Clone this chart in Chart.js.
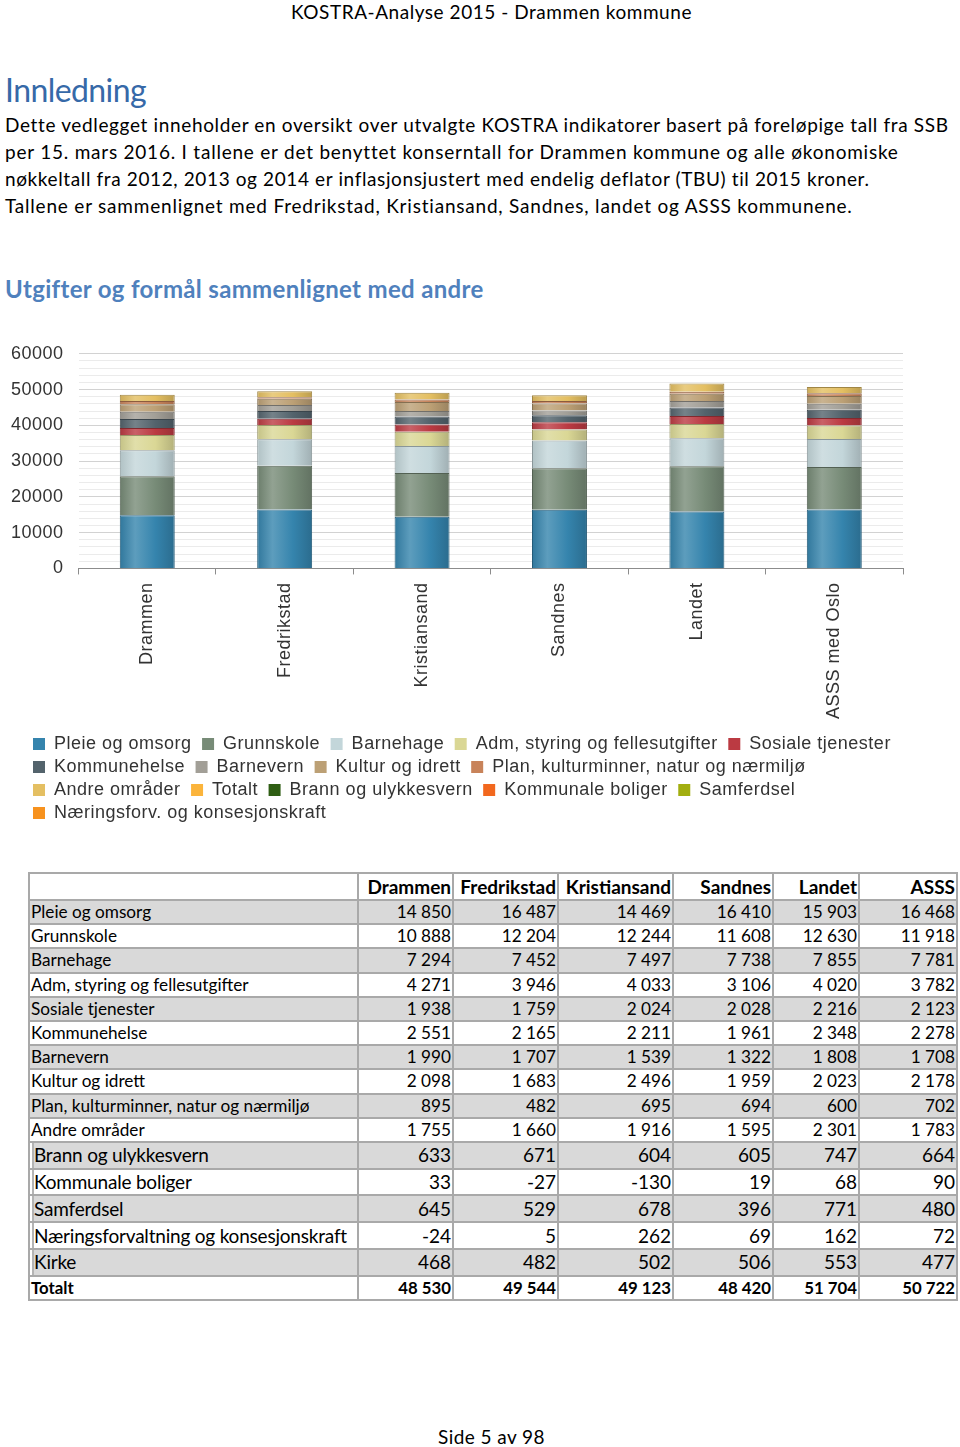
<!DOCTYPE html>
<html lang="no">
<head>
<meta charset="utf-8">
<title>KOSTRA-Analyse 2015 - Drammen kommune</title>
<script src="https://cdn.jsdelivr.net/npm/chart.js@4.4.1/dist/chart.umd.min.js"></script>
<style>
  html, body { margin: 0; padding: 0; background: #fff; }
  body { width: 960px; height: 1447px; position: relative; overflow: hidden; font-family: Lato, 'Open Sans', sans-serif; color: #000; }
  .txt { position: absolute; white-space: nowrap; display: inline-block; }
  .body { font-size: 19px; line-height: 27px; left: 5px; }
  #hdr { top: -2px; left: 291px; font-size: 19px; line-height: 27px; }
  #h1 { top: 71px; left: 5px; font-size: 32px; line-height: 38px; color: #3669a8; }
  #h2 { top: 274px; left: 5px; font-size: 24px; line-height: 29px; font-weight: 700; color: #4f81bd; }
  #ftr { top: 1423px; left: 438px; font-size: 19px; line-height: 27px; }
  #chartBox { position: absolute; left: -4px; top: 328px; width: 909px; height: 515px; }
  #tbl { position: absolute; left: 28px; top: 872px; border-collapse: collapse; table-layout: fixed; width: 928px; font-size: 17.2px; }
  #tbl td { border: 2px solid #a9a9a9; padding: 0 1px 0 1px; white-space: nowrap; vertical-align: middle; overflow: hidden; line-height: 18px; }
  #tbl td.num { text-align: right; }
  #tbl tr.head td { font-weight: 700; font-size: 19px; height: 25px; }
  #tbl tr.row td { height: 22.2px; }
  #tbl tr.big td { height: 24.8px; font-size: 19px; }
  #tbl tr.big td.lab { box-shadow: inset 2px 0 0 #fff, inset 4px 0 0 #b4b4b4; padding-left: 4px; letter-spacing: -0.2px; }
  #tbl tr.tot td { font-weight: 700; height: 22px; font-size: 16.8px; }
  #tbl tr.gray td { background: #d9d9d9; }
</style>
</head>
<body>
<div id="hdr" class="txt fit" data-w="401">KOSTRA-Analyse 2015 - Drammen kommune</div>
<div id="h1" class="txt fit" data-w="141">Innledning</div>
<div class="txt body fit" style="top:111px" data-w="943">Dette vedlegget inneholder en oversikt over utvalgte KOSTRA indikatorer basert på foreløpige tall fra SSB</div>
<div class="txt body fit" style="top:138px" data-w="893">per 15. mars 2016. I tallene er det benyttet konserntall for Drammen kommune og alle økonomiske</div>
<div class="txt body fit" style="top:165px" data-w="865">nøkkeltall fra 2012, 2013 og 2014 er inflasjonsjustert med endelig deflator (TBU) til 2015 kroner.</div>
<div class="txt body fit" style="top:192px" data-w="848">Tallene er sammenlignet med Fredrikstad, Kristiansand, Sandnes, landet og ASSS kommunene.</div>
<div id="h2" class="txt fit" data-w="478">Utgifter og formål sammenlignet med andre</div>

<div id="chartBox"><canvas id="kostraChart"></canvas></div>

<table id="tbl">
  <colgroup>
    <col style="width:329px"><col style="width:95px"><col style="width:105px"><col style="width:115px">
    <col style="width:100px"><col style="width:86px"><col style="width:98px">
  </colgroup>
  <tbody id="tblBody"></tbody>
</table>

<div id="ftr" class="txt fit" data-w="107">Side 5 av 98</div>

<script>
// kommuner / sammenligning
const CATEGORIES = ['Drammen', 'Fredrikstad', 'Kristiansand', 'Sandnes', 'Landet', 'ASSS med Oslo'];
const TABLE_COLUMNS = ['Drammen', 'Fredrikstad', 'Kristiansand', 'Sandnes', 'Landet', 'ASSS'];

// netto driftsutgifter per innbygger (kr)
const PLEIE = [14850, 16487, 14469, 16410, 15903, 16468];
const GRUNNSKOLE = [10888, 12204, 12244, 11608, 12630, 11918];
const BARNEHAGE = [7294, 7452, 7497, 7738, 7855, 7781];
const ADM = [4271, 3946, 4033, 3106, 4020, 3782];
const SOSIALE = [1938, 1759, 2024, 2028, 2216, 2123];
const KOMMUNEHELSE = [2551, 2165, 2211, 1961, 2348, 2278];
const BARNEVERN = [1990, 1707, 1539, 1322, 1808, 1708];
const KULTUR = [2098, 1683, 2496, 1959, 2023, 2178];
const PLAN = [895, 482, 695, 694, 600, 702];
const ANDRE = [1755, 1660, 1916, 1595, 2301, 1783];
const BRANN = [633, 671, 604, 605, 747, 664];
const KOMMUNALE_BOLIGER = [33, -27, -130, 19, 68, 90];
const SAMFERDSEL = [645, 529, 678, 396, 771, 480];
const NAERING = [-24, 5, 262, 69, 162, 72];
const KIRKE = [468, 482, 502, 506, 553, 477];
const TOTALT = [48530, 49544, 49123, 48420, 51704, 50722];

const Y_MAX = 60000;
const Y_STEP = 2000;
const Y_LABEL_STEP = 10000;

const TEXT_COLOR = '#333333';
const AXIS_COLOR = '#8c8c8c';
const GRID_MAJOR = '#d2d2d2';
const GRID_MINOR = '#ebebeb';
const LETTER_SPACING = '0.5px';
const LEGEND_DX = 32;
const LEGEND_DY = 3;

const FONT = { family: "'Liberation Sans', Arial, sans-serif", size: 18 };

// legend order = stacking order (only the first ten have bars)
const SERIES = [
  { label: 'Pleie og omsorg', data: PLEIE, color: '#3584ad' },
  { label: 'Grunnskole', data: GRUNNSKOLE, color: '#778b77' },
  { label: 'Barnehage', data: BARNEHAGE, color: '#c3d6da' },
  { label: 'Adm, styring og fellesutgifter', data: ADM, color: '#dad795' },
  { label: 'Sosiale tjenester', data: SOSIALE, color: '#bb3a42' },
  { label: 'Kommunehelse', data: KOMMUNEHELSE, color: '#53636c' },
  { label: 'Barnevern', data: BARNEVERN, color: '#a29f97' },
  { label: 'Kultur og idrett', data: KULTUR, color: '#bca075' },
  { label: 'Plan, kulturminner, natur og nærmiljø', data: PLAN, color: '#c8835a' },
  { label: 'Andre områder', data: ANDRE, color: '#e4bf62' },
  { label: 'Totalt', data: [], color: '#fbb43b' },
  { label: 'Brann og ulykkesvern', data: [], color: '#2f5e14' },
  { label: 'Kommunale boliger', data: [], color: '#f2681e' },
  { label: 'Samferdsel', data: [], color: '#a2ae10' },
  { label: 'Næringsforv. og konsesjonskraft', data: [], color: '#f7921e' },
];

const TABLE_ROWS = [
  ['Pleie og omsorg', PLEIE],
  ['Grunnskole', GRUNNSKOLE],
  ['Barnehage', BARNEHAGE],
  ['Adm, styring og fellesutgifter', ADM],
  ['Sosiale tjenester', SOSIALE],
  ['Kommunehelse', KOMMUNEHELSE],
  ['Barnevern', BARNEVERN],
  ['Kultur og idrett', KULTUR],
  ['Plan, kulturminner, natur og nærmiljø', PLAN],
  ['Andre områder', ANDRE],
  ['Brann og ulykkesvern', BRANN],
  ['Kommunale boliger', KOMMUNALE_BOLIGER],
  ['Samferdsel', SAMFERDSEL],
  ['Næringsforvaltning og konsesjonskraft', NAERING],
  ['Kirke', KIRKE],
  ['Totalt', TOTALT],
];

const shade = (hex, amt) => {
  const n = parseInt(hex.slice(1), 16);
  const mix = (c) => Math.round(amt >= 0 ? c + (255 - c) * amt : c * (1 + amt));
  const r = mix(n >> 16), g = mix((n >> 8) & 255), b = mix(n & 255);
  return `rgb(${r}, ${g}, ${b})`;
};

const fmt = (v) => {
  const s = Math.abs(v).toString().replace(/\B(?=(\d{3})+(?!\d))/g, '\u00a0');
  return (v < 0 ? '-' : '') + s;
};

// --- table ---
const tbody = document.getElementById('tblBody');
let html = '<tr class="head"><td></td>' + TABLE_COLUMNS.map((c) => `<td class="num">${c}</td>`).join('') + '</tr>';
TABLE_ROWS.forEach(([name, values], i) => {
  const cls = [i % 2 === 0 ? 'gray' : ''];
  if (i >= 10 && i <= 14) cls.push('big'); else if (i === 15) cls.push('tot'); else cls.push('row');
  html += `<tr class="${cls.join(' ')}"><td class="lab">${name}</td>` +
    values.map((v) => `<td class="num">${fmt(v)}</td>`).join('') + '</tr>';
});
tbody.innerHTML = html;

// --- fit document text lines to the reference widths ---
document.querySelectorAll('.fit').forEach((el) => {
  const target = +el.dataset.w;
  const w = el.getBoundingClientRect().width;
  const n = el.textContent.length;
  el.style.letterSpacing = ((target - w) / n).toFixed(3) + 'px';
});

// --- chart ---
const barFill = (ctx) => {
  const color = SERIES[ctx.datasetIndex].color;
  const xScale = ctx.chart.scales.x;
  if (ctx.type !== 'data' || !xScale || !ctx.chart.chartArea) return color;
  const cx = xScale.getPixelForValue(ctx.dataIndex);
  const half = (xScale.width / CATEGORIES.length) * 0.4 / 2;
  const g = ctx.chart.ctx.createLinearGradient(cx - half, 0, cx + half, 0);
  g.addColorStop(0, shade(color, -0.1));
  g.addColorStop(0.28, shade(color, 0.2));
  g.addColorStop(0.65, color);
  g.addColorStop(1, shade(color, -0.18));
  return g;
};

const spacingPlugin = {
  id: 'spacing',
  beforeLayout: (chart) => { chart.ctx.letterSpacing = LETTER_SPACING; },
  beforeDraw: (chart) => { chart.ctx.letterSpacing = LETTER_SPACING; },
};

const legendShift = {
  id: 'legendShift',
  afterLayout: (chart) => {
    const l = chart.legend;
    l.left += LEGEND_DX; l.right += LEGEND_DX;
    l.top += LEGEND_DY; l.bottom += LEGEND_DY;
  },
};

const DATASETS = SERIES.map((s) => ({
  label: s.label,
  data: s.data,
  backgroundColor: barFill,
  borderColor: shade(s.color, -0.3),
  borderWidth: 1,
  barPercentage: 0.4,
  categoryPercentage: 1,
}));

new Chart(document.getElementById('kostraChart'), {
  type: 'bar',
  data: { labels: CATEGORIES, datasets: DATASETS },
  plugins: [spacingPlugin, legendShift],
  options: {
    responsive: true,
    maintainAspectRatio: false,
    animation: false,
    layout: { padding: { bottom: 14, right: 2 } },
    plugins: {
      tooltip: { enabled: false },
      legend: {
        position: 'bottom',
        align: 'start',
        labels: {
          boxWidth: 12,
          boxHeight: 12,
          padding: 5,
          color: TEXT_COLOR,
          font: FONT,
          // trailing space widens the gap between legend entries
          generateLabels: (chart) => chart.data.datasets.map((ds, i) => ({
            text: ds.label + ' ',
            fillStyle: SERIES[i].color,
            strokeStyle: SERIES[i].color,
            lineWidth: 0,
            hidden: false,
            fontColor: TEXT_COLOR,
            datasetIndex: i,
          })),
        },
      },
    },
    scales: {
      x: {
        stacked: true,
        border: { color: AXIS_COLOR, width: 1 },
        grid: { offset: true, drawOnChartArea: false, drawTicks: true, tickLength: 6, color: AXIS_COLOR },
        ticks: { minRotation: 90, maxRotation: 90, padding: 8, color: TEXT_COLOR, font: FONT, autoSkip: false },
      },
      y: {
        stacked: true,
        min: 0,
        max: Y_MAX,
        border: { display: false },
        grid: {
          drawTicks: false,
          color: (c) => (c.tick && c.tick.value % Y_LABEL_STEP === 0 ? GRID_MAJOR : GRID_MINOR),
        },
        ticks: {
          stepSize: Y_STEP,
          autoSkip: false,
          padding: 15,
          color: TEXT_COLOR,
          font: FONT,
          callback: (v) => (v % Y_LABEL_STEP === 0 ? String(v) : ''),
        },
      },
    },
  },
});
</script>
</body>
</html>
